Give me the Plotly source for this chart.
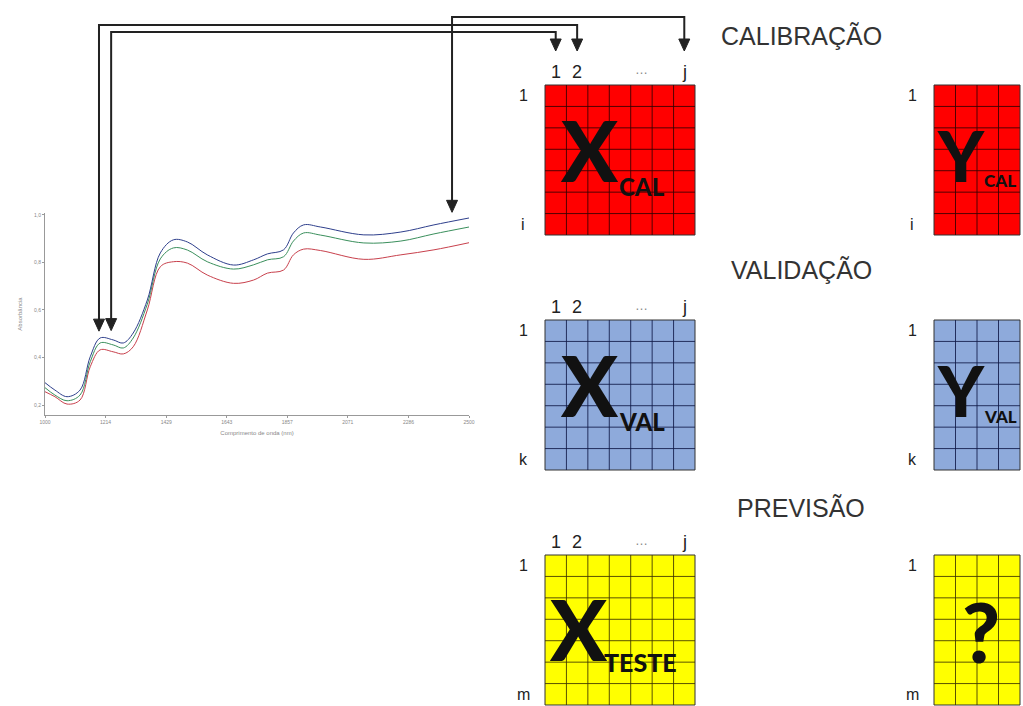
import numpy as np
import plotly.graph_objects as go

W, H = 1023, 706

# NIR spectra (absorbance vs wavelength, nm)
wavelength = [1000, 1035, 1078, 1124, 1160, 1195, 1241, 1277, 1312, 1362, 1408, 1454, 1504,
              1574, 1667, 1738, 1787, 1844, 1879, 1915, 1975, 2128, 2259, 2376, 2500]
amostra_azul = [0.294, 0.263, 0.235, 0.263, 0.403, 0.482, 0.474, 0.461, 0.503, 0.642, 0.840, 0.895, 0.886,
                0.832, 0.789, 0.811, 0.836, 0.853, 0.924, 0.958, 0.949, 0.916, 0.928, 0.958, 0.987]
amostra_verde = [0.273, 0.242, 0.218, 0.242, 0.382, 0.461, 0.453, 0.440, 0.482, 0.625, 0.815, 0.861, 0.852,
                 0.803, 0.772, 0.790, 0.811, 0.824, 0.890, 0.924, 0.915, 0.882, 0.890, 0.920, 0.949]
amostra_vermelha = [0.256, 0.235, 0.204, 0.221, 0.361, 0.432, 0.424, 0.415, 0.445, 0.600, 0.782, 0.803, 0.797,
                    0.747, 0.712, 0.726, 0.755, 0.768, 0.832, 0.856, 0.850, 0.813, 0.832, 0.853, 0.883]

x_ticks = [1000, 1214, 1429, 1643, 1857, 2071, 2286, 2500]
y_ticks = [0.2, 0.4, 0.6, 0.8, 1.0]
y_tick_labels = ["0,2", "0,4", "0,6", "0,8", "1,0"]

# variables (wavelengths) taken into matrix columns
selected_wavelengths = [1191, 1234, 2440]
selected_columns = [2, 1, 7]

sections = ["CALIBRAÇÃO", "VALIDAÇÃO", "PREVISÃO"]
x_subscripts = ["CAL", "VAL", "TESTE"]
y_subscripts = ["CAL", "VAL", None]
last_row_labels = ["i", "k", "m"]
column_labels = ["1", "2", "…", "j"]
column_label_index = [1, 2, 5, 7]
n_rows, n_cols_x, n_cols_y = 7, 7, 4

# ---- layout constants (pixels) ----
SP_L, SP_R, SP_T, SP_B = 45, 469, 213, 415
X_RANGE = [1000, 2500]
Y_RANGE = [0.158, 1.008]
BOX_X_LEFT, BOX_Y_LEFT = 545, 934
CELL_X = 150 / n_cols_x
CELL_Y_W = 86 / n_cols_y
BOX_H = 150
CELL_H = BOX_H / n_rows
BOX_TOPS = [85, 320, 555]
TITLE_Y = [36, 270, 508]
FILLS = ["#ff0000", "#8eaadb", "#ffff00"]
GRID_COLORS = ["rgba(50,0,0,0.85)", "rgba(15,25,70,0.85)", "rgba(60,50,0,0.85)"]
ARROW_LEVELS = [25, 32, 17]
ARROW_TIP_TOP = 51
FONT = "Liberation Sans, Arial, sans-serif"
HEAVY = "Lato, Liberation Sans, sans-serif"


def px(x):
    return x / W


def py(y):
    return 1 - y / H


def wl_to_px(wl):
    return SP_L + (wl - X_RANGE[0]) / (X_RANGE[1] - X_RANGE[0]) * (SP_R - SP_L)


def val_to_py(v):
    return SP_B - (v - Y_RANGE[0]) / (Y_RANGE[1] - Y_RANGE[0]) * (SP_B - SP_T)


fig = go.Figure()

for serie, cor in [(amostra_vermelha, "#c8404c"), (amostra_verde, "#3a8f5c"), (amostra_azul, "#2e3f8c")]:
    fig.add_trace(go.Scatter(x=wavelength, y=serie, mode="lines", line=dict(color=cor, width=1, shape="spline"),
                             hoverinfo="skip", showlegend=False))

shapes = []
annotations = []


def text(x, y, s, size, color="#222", family=FONT, weight="normal"):
    annotations.append(dict(x=px(x), y=py(y), xref="paper", yref="paper", text=s,
                            showarrow=False, xanchor="center", yanchor="middle",
                            font=dict(family=family, size=size, color=color, weight=weight)))


def grid(left, top, cols, cell_w, fill, line_color):
    w = cols * cell_w
    shapes.append(dict(type="rect", xref="paper", yref="paper", x0=px(left), x1=px(left + w),
                       y0=py(top + BOX_H), y1=py(top), fillcolor=fill, line=dict(color="#333", width=1),
                       layer="below"))
    for c in range(1, cols):
        xx = left + c * cell_w
        shapes.append(dict(type="line", xref="paper", yref="paper", x0=px(xx), x1=px(xx),
                           y0=py(top), y1=py(top + BOX_H), line=dict(color=line_color, width=1)))
    for r in range(1, n_rows):
        yy = top + r * CELL_H
        shapes.append(dict(type="line", xref="paper", yref="paper", x0=px(left), x1=px(left + w),
                           y0=py(yy), y1=py(yy), line=dict(color=line_color, width=1)))


for k in range(3):
    top = BOX_TOPS[k]
    text(801, TITLE_Y[k], sections[k], 25, "#333")
    grid(BOX_X_LEFT, top, n_cols_x, CELL_X, FILLS[k], GRID_COLORS[k])
    grid(BOX_Y_LEFT, top, n_cols_y, CELL_Y_W, FILLS[k], GRID_COLORS[k])
    # row labels
    for left in (BOX_X_LEFT, BOX_Y_LEFT):
        text(left - 22, top + CELL_H / 2, "1", 16)
        text(left - 22, top + BOX_H - CELL_H / 2, last_row_labels[k], 16)
    # column labels
    for lab, idx in zip(column_labels, column_label_index):
        cx = BOX_X_LEFT + (idx - 0.5) * CELL_X
        if lab == "…":
            text(cx, top - 15, lab, 13, "#888")
        else:
            text(cx, top - 13, lab, 18)
    # matrix names
    if k < 2:
        text(589, top + 64, "X", 84, "#111", HEAVY, 900)
        text(642, top + 101, x_subscripts[k], 24, "#111", HEAVY, 900)
        text(961, top + 70, "Y", 70, "#111", HEAVY, 900)
        text(1000, top + 96, y_subscripts[k], 17, "#111", HEAVY, 900)
    else:
        text(578, top + 73, "X", 84, "#111", HEAVY, 900)
        text(640, top + 107, x_subscripts[k], 25, "#111", HEAVY, 900)
        text(981, top + 76, "?", 82, "#111", HEAVY, 900)


def arrowhead(x, y_tip):
    shapes.append(dict(type="path", xref="paper", yref="paper",
                       path=f"M {px(x - 5.5)} {py(y_tip - 12)} L {px(x + 5.5)} {py(y_tip - 12)} L {px(x)} {py(y_tip)} Z",
                       fillcolor="#222", line=dict(color="#222", width=1)))


def blue_at(wl):
    return float(np.interp(wl, wavelength, amostra_azul))


for wl, col, level in zip(selected_wavelengths, selected_columns, ARROW_LEVELS):
    x0 = wl_to_px(wl)
    tip0 = val_to_py(blue_at(wl)) - 9
    x1 = BOX_X_LEFT + (col - 0.5) * CELL_X
    path = (f"M {px(x0)} {py(tip0 - 10)} L {px(x0)} {py(level)} L {px(x1)} {py(level)} "
            f"L {px(x1)} {py(ARROW_TIP_TOP - 10)}")
    shapes.append(dict(type="path", xref="paper", yref="paper", path=path, line=dict(color="#222", width=2)))
    arrowhead(x0, tip0)
    arrowhead(x1, ARROW_TIP_TOP)

fig.update_layout(
    width=W, height=H, margin=dict(l=0, r=0, t=0, b=0),
    paper_bgcolor="white", plot_bgcolor="rgba(0,0,0,0)",
    shapes=shapes, annotations=annotations, showlegend=False,
    xaxis=dict(domain=[px(SP_L), px(SP_R)], range=X_RANGE, tickvals=x_ticks, showgrid=False, zeroline=False,
               automargin=False,
               showline=True, linecolor="#999", linewidth=1, ticks="outside", ticklen=2, tickcolor="#999",
               tickfont=dict(size=5, color="#888", family=FONT),
               title=dict(text="Comprimento de onda (nm)", font=dict(size=6, color="#888", family=FONT),
                          standoff=6)),
    yaxis=dict(domain=[py(SP_B), py(SP_T)], range=Y_RANGE, tickvals=y_ticks, ticktext=y_tick_labels,
               automargin=False,
               showgrid=False, zeroline=False, showline=True, linecolor="#999", linewidth=1, ticks="outside",
               ticklen=2, tickcolor="#999", tickfont=dict(size=5, color="#888", family=FONT),
               title=dict(text="Absorbância", font=dict(size=6, color="#888", family=FONT), standoff=10)),
)

fig.write_html("out.html")
